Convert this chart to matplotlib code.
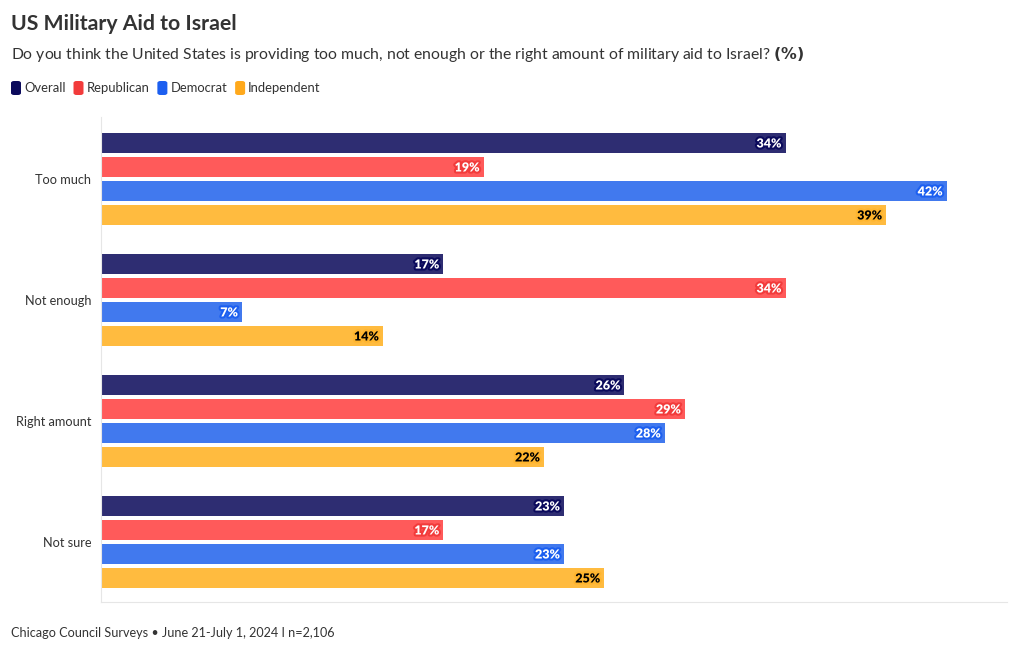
import numpy as np
import matplotlib.pyplot as plt
import matplotlib.patheffects as pe
from matplotlib.patches import FancyBboxPatch

plt.rcParams['font.family'] = ['Lato', 'DejaVu Sans']

categorii = ["Too much", "Not enough", "Right amount", "Not sure"]
serii = ["Overall", "Republican", "Democrat", "Independent"]
overall = [34, 17, 26, 23]
republican = [19, 34, 29, 17]
democrat = [42, 7, 28, 23]
independent = [39, 14, 22, 25]
valori = [overall, republican, democrat, independent]

culori_bare = ["#2e2d72", "#ff5a5a", "#4179ee", "#ffbb3f"]
culori_legenda = ["#0b0a5c", "#f23b3b", "#1c5ff0", "#ffa91c"]
culori_text = ["white", "white", "white", "black"]
culori_halo = ["#0b0a5c", "#f23b3b", "#1c5ff0", "#ffb52e"]

fig = plt.figure(figsize=(10.2, 6.52), dpi=100)
ax = fig.add_axes([101 / 1020, 1 - 602 / 652, 906 / 1020, 485 / 652])

centre = np.array([62 + 121 * i for i in range(len(categorii))])
decalaje = [-36, -12, 12, 36]

for s in range(len(serii)):
    y = centre + decalaje[s]
    ax.barh(y, valori[s], height=20, color=culori_bare[s])
    for yi, v in zip(y, valori[s]):
        ax.text(v - 0.2, yi + 0.5, f"{v}%", ha="right", va="center",
                fontsize=9, fontweight="heavy", color=culori_text[s],
                path_effects=[pe.withStroke(linewidth=3, foreground=culori_halo[s])])

ax.set_xlim(0, 45)
ax.set_ylim(485, 0)
ax.set_yticks(centre)
ax.set_yticklabels(categorii, fontsize=9.2, color="#333333")
ax.set_xticks([])
ax.tick_params(axis="y", length=0, pad=7)
for k in ["top", "right"]:
    ax.spines[k].set_visible(False)
ax.spines["left"].set_color("#e6e6e6")
ax.spines["bottom"].set_color("#e6e6e6")

fig.text(11 / 1020, 1 - 24 / 652, "US Military Aid to Israel", fontsize=15.3,
         fontweight="bold", color="#333333", va="center", ha="left")
fig.text(11 / 1020, 1 - 54 / 652,
         "Do you think the United States is providing too much, not enough or the right amount of military aid to Israel? $\\bf{(\\%)}$",
         fontsize=11.3, color="#333333", va="center", ha="left")
fig.text(11 / 1020, 1 - 633 / 652, "Chicago Council Surveys • June 21-July 1, 2024 I n=2,106",
         fontsize=9.1, color="#333333", va="center", ha="left")

# legenda desenata manual, cu patrate rotunjite
x = 11
for nume, c in zip(serii, culori_legenda):
    fig.patches.append(FancyBboxPatch((x / 1020, 1 - 95 / 652), 10 / 1020, 14 / 652,
                                      boxstyle="round,pad=0,rounding_size=0.003",
                                      transform=fig.transFigure, facecolor=c, edgecolor="none"))
    t = fig.text((x + 13) / 1020, 1 - 88 / 652, nume, fontsize=9.4, color="#333333",
                 va="center", ha="left")
    fig.canvas.draw()
    lat = t.get_window_extent().width
    x = x + 13 + lat + 8

plt.savefig("out.png", dpi=100)
